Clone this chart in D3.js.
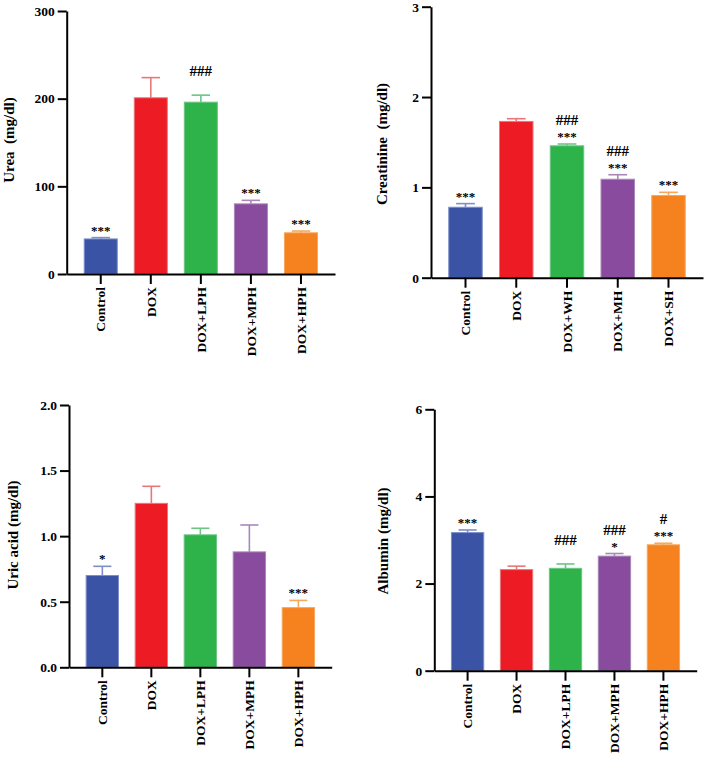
<!DOCTYPE html>
<html>
<head>
<meta charset="utf-8">
<script src="https://cdn.jsdelivr.net/npm/d3@7"></script>
<style>
  body { margin: 0; background: #fff; }
  svg text { font-family: "Liberation Serif", "Times New Roman", serif; font-weight: bold; fill: #000; }
</style>
</head>
<body>
<div id="graph"></div>
<script>
const groupsLPH = ["Control", "DOX", "DOX+LPH", "DOX+MPH", "DOX+HPH"];
const groupsWH = ["Control", "DOX", "DOX+WH", "DOX+MH", "DOX+SH"];

const barColors = ["#3a53a4", "#ed1c24", "#2eb34a", "#894b9d", "#f6821f"];
const errColors = ["#7d8ec8", "#e8767b", "#6cc584", "#a987b8", "#f5a85e"];

// urea (mg/dl)
const ureaMean = [40, 201, 196, 80, 47];
const ureaSem = [1.5, 23, 8, 4, 2];
const ureaSig = [["***"], [], ["###", ""], ["***"], ["***"]];
const ureaTicks = [0, 100, 200, 300];

// creatinine (mg/dl)
const creatMean = [0.78, 1.73, 1.46, 1.09, 0.91];
const creatSem = [0.04, 0.03, 0.02, 0.05, 0.035];
const creatSig = [["***"], [], ["###", "***"], ["###", "***"], ["***"]];
const creatTicks = [0, 1, 2, 3];

// uric acid (mg/dl)
const uricMean = [0.70, 1.25, 1.01, 0.88, 0.455];
const uricSem = [0.07, 0.13, 0.05, 0.205, 0.055];
const uricSig = [["*"], [], [], [], ["***"]];
const uricTicks = [0, 0.5, 1.0, 1.5, 2.0];

// albumin (mg/dl)
const albMean = [3.17, 2.32, 2.35, 2.63, 2.89];
const albSem = [0.06, 0.08, 0.10, 0.06, 0.035];
const albSig = [["***"], [], ["###", ""], ["###", "*"], ["#", "***"]];
const albTicks = [0, 2, 4, 6];

const width = 705;
const height = 760;

const svg = d3.create("svg")
              .attr("width", width)
              .attr("height", height);

function panel(opt) {
  const x = d3.scaleBand()
              .domain(opt.groups)
              .range([opt.x0, opt.x1])
              .paddingInner(0.34)
              .paddingOuter(0.35);

  const y = d3.scaleLinear()
              .domain([0, d3.max(opt.ticks)])
              .range([opt.yBot, opt.yTop]);

  const g = svg.append("g");

  //bars
  g.selectAll(".bar")
   .data(opt.mean)
   .enter()
   .append("rect")
   .attr("x", (d, i) => x(opt.groups[i]))
   .attr("y", d => y(d))
   .attr("width", x.bandwidth())
   .attr("height", d => y(0) - y(d))
   .style("fill", (d, i) => barColors[i])
   .style("stroke", (d, i) => errColors[i])
   .style("stroke-width", 1);

  //error bars (upper only)
  const capW = x.bandwidth() * 0.56;
  opt.mean.forEach((m, i) => {
    const cx = x(opt.groups[i]) + x.bandwidth() / 2;
    const top = y(m + opt.sem[i]);
    g.append("line")
     .attr("x1", cx).attr("x2", cx)
     .attr("y1", y(m)).attr("y2", top)
     .style("stroke", errColors[i]).style("stroke-width", 1.6);
    g.append("line")
     .attr("x1", cx - capW / 2).attr("x2", cx + capW / 2)
     .attr("y1", top).attr("y2", top)
     .style("stroke", errColors[i]).style("stroke-width", 1.6);

    //significance marks
    const lines = opt.sig[i];
    lines.forEach((s, j) => {
      const k = lines.length - 1 - j;
      g.append("text")
       .attr("x", cx)
       .attr("y", top - 3 - k * 16)
       .attr("text-anchor", "middle")
       .style("font-size", s.startsWith("#") ? "15px" : "13px")
       .text(s);
    });
  });

  //y-axis
  const yAxis = d3.axisLeft(y)
                  .tickValues(opt.ticks)
                  .tickFormat(opt.fmt)
                  .tickSize(9)
                  .tickSizeOuter(0)
                  .tickPadding(3);

  const ya = g.append("g")
              .attr("transform", `translate(${opt.x0}, 0)`)
              .call(yAxis);
  ya.selectAll("text").style("font-size", "13.5px").attr("font-family", null);

  //x-axis
  const xAxis = d3.axisBottom(x)
                  .tickSize(10)
                  .tickSizeOuter(0);

  const xa = g.append("g")
              .attr("transform", `translate(0, ${opt.yBot})`)
              .call(xAxis);
  xa.selectAll("text")
    .attr("transform", "rotate(-90)")
    .attr("x", -13)
    .attr("y", 0)
    .attr("dy", "0.35em")
    .attr("text-anchor", "end")
    .attr("font-family", null)
    .style("font-size", "13.5px");

  g.selectAll(".domain, .tick line")
   .style("stroke", "#000")
   .style("stroke-width", 2);

  //axis title
  g.append("text")
   .attr("transform", "rotate(-90)")
   .attr("x", -opt.titleY)
   .attr("y", opt.titleX)
   .attr("dy", "0.35em")
   .attr("text-anchor", "middle")
   .style("font-size", "15px")
   .style("white-space", "pre")
   .text(opt.title);
}

panel({ groups: groupsLPH, mean: ureaMean, sem: ureaSem, sig: ureaSig, ticks: ureaTicks,
        fmt: d3.format("d"), x0: 66.7, x1: 335, yTop: 11, yBot: 274,
        title: "Urea\u00a0\u00a0(mg/dl)", titleX: 9, titleY: 140 });

panel({ groups: groupsWH, mean: creatMean, sem: creatSem, sig: creatSig, ticks: creatTicks,
        fmt: d3.format("d"), x0: 431, x1: 703, yTop: 6.7, yBot: 277.7,
        title: "Creatinine\u00a0\u00a0(mg/dl)", titleX: 382, titleY: 144 });

panel({ groups: groupsLPH, mean: uricMean, sem: uricSem, sig: uricSig, ticks: uricTicks,
        fmt: d3.format(".1f"), x0: 69, x1: 331.7, yTop: 405, yBot: 667.3,
        title: "Uric acid (mg/dl)", titleX: 13, titleY: 535 });

panel({ groups: groupsLPH, mean: albMean, sem: albSem, sig: albSig, ticks: albTicks,
        fmt: d3.format("d"), x0: 434.3, x1: 696.7, yTop: 409.3, yBot: 670.7,
        title: "Albumin (mg/dl)", titleX: 383, titleY: 541 });

document.getElementById("graph").append(svg.node());
</script>
</body>
</html>
